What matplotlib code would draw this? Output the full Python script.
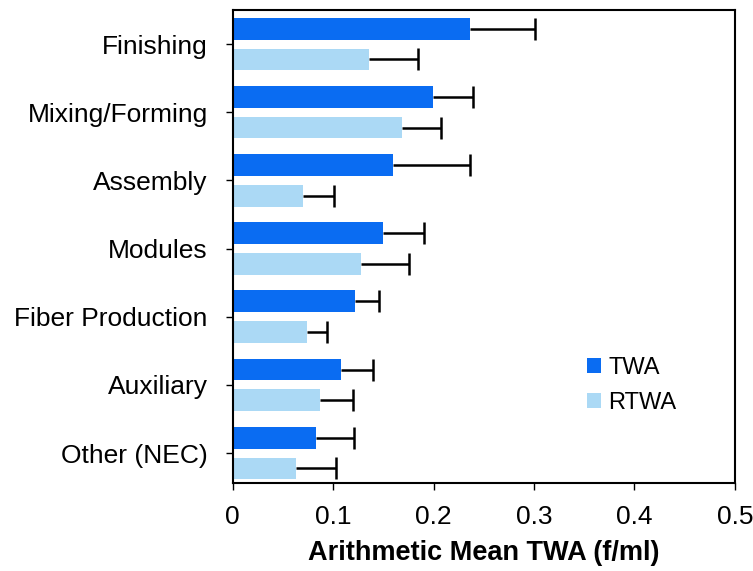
import numpy as np
import matplotlib.pyplot as plt

plt.rcParams['font.family'] = ['Liberation Sans', 'DejaVu Sans']

# === Data ===
categories = ['Finishing', 'Mixing/Forming', 'Assembly', 'Modules',
              'Fiber Production', 'Auxiliary', 'Other (NEC)']
twa = [0.236, 0.199, 0.160, 0.150, 0.122, 0.108, 0.083]
twa_err = [0.065, 0.040, 0.076, 0.040, 0.024, 0.032, 0.038]
rtwa = [0.136, 0.169, 0.070, 0.128, 0.074, 0.087, 0.063]
rtwa_err = [0.048, 0.038, 0.031, 0.048, 0.020, 0.033, 0.040]

twa_color = '#0a6cf2'
rtwa_color = '#abd9f5'

fig = plt.figure(figsize=(7.53, 5.71), dpi=100)
ax = fig.add_axes([0.309, 0.154, 0.667, 0.8285])

y = np.arange(len(categories))
h = 0.32
off = 0.225

# error bars only on the right side of each bar
err_style = dict(ecolor='black', elinewidth=1.8, capsize=8, capthick=1.8)
b1 = ax.barh(y - off, twa, height=h, color=twa_color, label='TWA',
             xerr=[np.zeros(len(twa)), twa_err], error_kw=err_style)
b2 = ax.barh(y + off, rtwa, height=h, color=rtwa_color, label='RTWA',
             xerr=[np.zeros(len(rtwa)), rtwa_err], error_kw=err_style)
for b in (b1, b2):
    caps = b.errorbar.lines[1]
    caps[0].set_visible(False)   # hide the cap sitting on the bar end

ax.set_yticks(y)
ax.set_yticklabels(categories, fontsize=19)
ax.set_ylim(len(categories) - 0.56, -0.5)
ax.set_xlim(0, 0.5)
ax.set_xticks([0, 0.1, 0.2, 0.3, 0.4, 0.5])
ax.set_xticklabels(['0', '0.1', '0.2', '0.3', '0.4', '0.5'], fontsize=19)
ax.tick_params(axis='y', length=5, width=1, pad=13)
ax.tick_params(axis='x', length=5, width=1, pad=11)
ax.set_xlabel('Arithmetic Mean TWA (f/ml)', fontsize=19.5, fontweight='bold',
              labelpad=8)

for s in ax.spines.values():
    s.set_linewidth(1.5)

ax.legend(loc='center left', bbox_to_anchor=(0.779, 0.325),
          bbox_transform=fig.transFigure, frameon=False, borderpad=0,
          borderaxespad=0, prop={'family': 'Liberation Sans', 'size': 17},
          handlelength=0.62, handleheight=0.62, handletextpad=0.3,
          labelspacing=0.55)

plt.savefig('out.png', dpi=100)
